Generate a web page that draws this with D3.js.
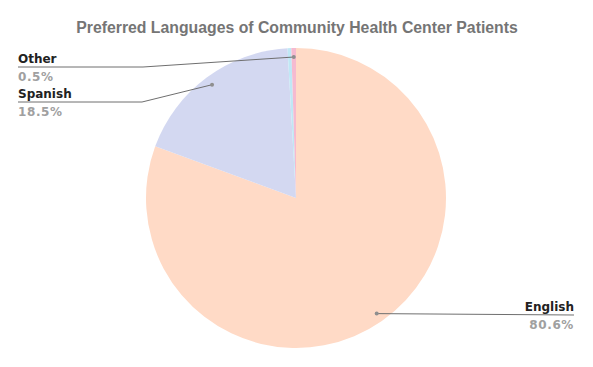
<!DOCTYPE html>
<html>
<head>
<meta charset="utf-8">
<script src="https://cdn.jsdelivr.net/npm/d3@7"></script>
<style>
  body { margin: 0; background: #fff; }
</style>
</head>
<body>
<script>
// data (clockwise from 12 o'clock)
const languages = ["English", "Spanish", "Unknown", "Other"];
const shares = [80.6, 18.5, 0.4, 0.5];
const colors = ["#ffdac6", "#d3d8f1", "#bfe8f5", "#f5bad0"];
const labelled = ["English", "Spanish", "Other"];

const w = 593, h = 367;
const cx = 296, cy = 198, radius = 150;

const svg = d3.select("body").append("svg")
    .attr("width", w)
    .attr("height", h);

svg.append("text")
    .attr("x", 297)
    .attr("y", 33)
    .attr("text-anchor", "middle")
    .style("font-family", "'Liberation Sans', Arial, sans-serif")
    .style("font-weight", "bold")
    .style("font-size", "15.8px")
    .attr("fill", "#757575")
    .text("Preferred Languages of Community Health Center Patients");

const data = languages.map((d, i) => ({name: d, value: shares[i], color: colors[i]}));

const pie = d3.pie().sort(null).value(d => d.value);
const arcs = pie(data);
const arc = d3.arc().innerRadius(0).outerRadius(radius);
const dotArc = d3.arc().innerRadius(141).outerRadius(141);

const g = svg.append("g")
    .attr("transform", "translate(" + cx + "," + cy + ")");

g.selectAll("path")
    .data(arcs)
    .enter()
    .append("path")
    .attr("d", arc)
    .attr("fill", d => d.data.color);

// label placement: where the leader line bends and where the text sits
const labelPos = {
  English: {bend: [574, 315], end: [574, 315], anchor: "end", tx: 574, ty: 311},
  Spanish: {bend: [142, 102], end: [18, 102], anchor: "start", tx: 18, ty: 98},
  Other:   {bend: [143, 67], end: [18, 67], anchor: "start", tx: 18, ty: 63}
};

const lab = svg.append("g");
arcs.filter(d => labelled.includes(d.data.name)).forEach(d => {
  const p = dotArc.centroid(d);
  const x0 = cx + p[0], y0 = cy + p[1];
  const L = labelPos[d.data.name];
  lab.append("polyline")
      .attr("points", [[x0, y0], L.bend, L.end].map(q => q.join(",")).join(" "))
      .attr("fill", "none")
      .attr("stroke", "#6f6f6f")
      .attr("stroke-width", 1);
  lab.append("circle")
      .attr("cx", x0).attr("cy", y0).attr("r", 2)
      .attr("fill", "#8f8f8f");
  lab.append("text")
      .attr("x", L.tx).attr("y", L.ty)
      .attr("text-anchor", L.anchor)
      .style("font-family", "'DejaVu Sans', Verdana, sans-serif")
      .style("font-weight", "bold")
      .style("font-size", "12px")
      .attr("fill", "#222")
      .text(d.data.name);
  lab.append("text")
      .attr("x", L.tx).attr("y", L.ty + 18)
      .attr("text-anchor", L.anchor)
      .style("font-family", "'DejaVu Sans', Verdana, sans-serif")
      .style("font-weight", "bold")
      .style("font-size", "12px")
      .style("letter-spacing", "0.6px")
      .attr("fill", "#a0a0a0")
      .text(d3.format(".1f")(d.data.value) + "%");
});
</script>
</body>
</html>
